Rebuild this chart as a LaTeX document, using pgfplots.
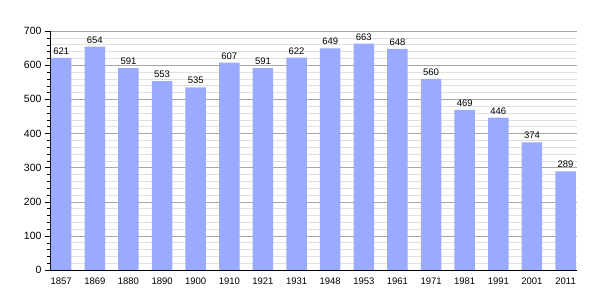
\documentclass[border=0pt]{standalone}
\usepackage{fontspec}
\setmainfont{Liberation Sans}
\usepackage{pgfplots}
\pgfplotsset{compat=1.18}
\definecolor{barc}{HTML}{99AAFF}
\begin{document}
\begin{tikzpicture}
\begin{axis}[name=ax, at={(0,0)}, anchor=south west,
  scale only axis, width=527pt, height=239pt,
  xmin=-0.333, xmax=15.34, ymin=0, ymax=700,
  axis x line*=bottom, axis y line*=left,
  ybar, bar width=0.61,
  xtick={0,...,15},
  xticklabels={1857,1869,1880,1890,1900,1910,1921,1931,1948,1953,1961,1971,1981,1991,2001,2011},
  x tick style={draw=none},
  ytick={0,100,...,700}, minor y tick num=4,
  ymajorgrids, yminorgrids,
  major grid style={black!35},
  minor grid style={black!12},
  tick align=outside, major tick length=5pt, minor tick length=3pt,
  y tick style={black},
  /pgf/number format/assume math mode=true,
  x tick label style={font=\fontsize{9.5}{10}\selectfont, yshift=1pt},
  y tick label style={font=\fontsize{10.5}{11}\selectfont},
  nodes near coords,
  nodes near coords style={font=\fontsize{9.5}{10}\selectfont, text=black},
  axis line style={black},
]
\addplot[fill=barc, draw=none] coordinates {
(0,621) (1,654) (2,591) (3,553) (4,535) (5,607) (6,591) (7,622)
(8,649) (9,663) (10,648) (11,560) (12,469) (13,446) (14,374) (15,289)};
\end{axis}
\pgfresetboundingbox
\path[use as bounding box] ([xshift=-50pt,yshift=-30pt]ax.south west) rectangle ([xshift=28pt,yshift=31pt]ax.north east);
\end{tikzpicture}
\end{document}
